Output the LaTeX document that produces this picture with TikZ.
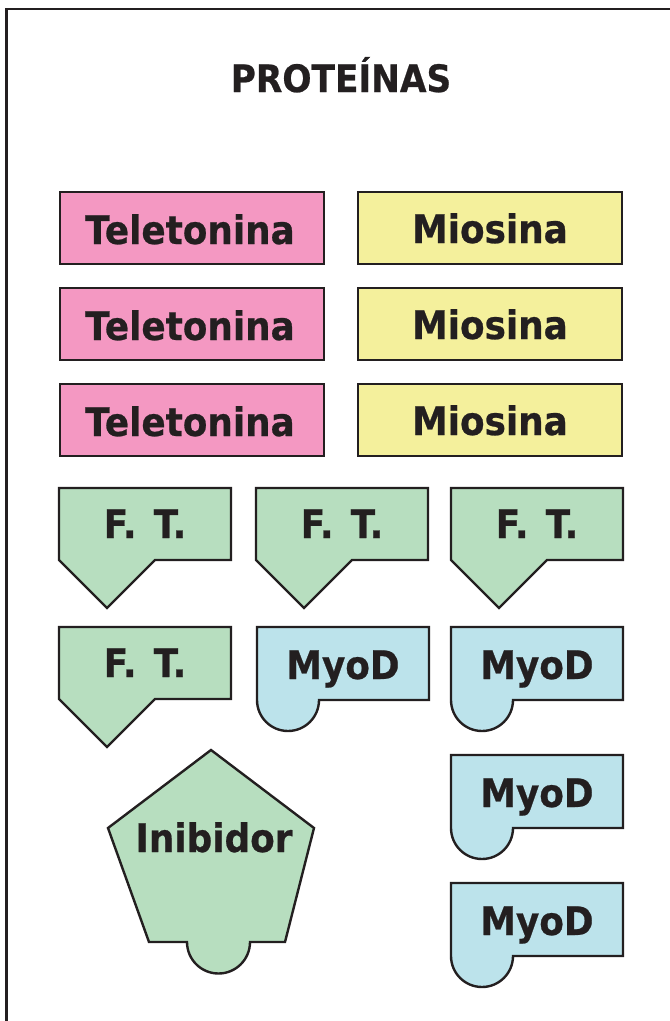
\documentclass[tikz,border=0pt]{standalone}
\usepackage{fontspec}
\newfontfamily\lbfont{DejaVu Sans Bold}[FakeStretch=0.91, FakeBold=0.6]
\definecolor{pinkf}{HTML}{F498C2}
\definecolor{yellowf}{HTML}{F4F09C}
\definecolor{greenf}{HTML}{B7DEBF}
\definecolor{bluef}{HTML}{BCE3EB}
\definecolor{inkc}{HTML}{231F20}
\tikzset{
  shp/.style={draw=inkc, line width=1.8pt, line join=miter},
  lbl/.style={anchor=base, inner sep=0pt, text=inkc, font=\lbfont\fontsize{29.5}{30}\selectfont},
}
\newcommand{\ftshape}[3]{% name, x, y (top-left)
  \path[shp, fill=greenf] (#2,#3) -- ++(172,0) -- ++(0,72) -- ++(-76,0) -- ++(-48,48) -- ++(-48,-48) -- cycle;
  \node[lbl] (#1) at (#2+86,#3+50) {F.\kern0.12em\ T.};
}
\newcommand{\myodshape}[3]{%
  \path[shp, fill=bluef] (#2,#3) -- ++(172,0) -- ++(0,73) -- ++(-110,0) arc (0:180:31) -- cycle;
  \node[lbl] (#1) at (#2+86,#3+52) {MyoD};
}
\begin{document}
\begin{tikzpicture}[x=0.75pt,y=-0.75pt]
\useasboundingbox (0,0) rectangle (670,1021);
% frame
\draw[draw=inkc, line width=1.6pt] (6.5,1030) -- (6.5,9) -- (680,9);
\node[lbl, font=\lbfont\fontsize{28.3}{30}\selectfont] (title) at (341,92) {PROTEÍNAS};
% rectangles
\foreach \r/\yy in {1/192,2/288,3/384}{
  \path[shp, fill=pinkf] (60,\yy) rectangle (324,\yy+72);
  \node[lbl] (tel\r) at (190,\yy+52) {Teletonina};
  \path[shp, fill=yellowf] (358,\yy) rectangle (622,\yy+72);
  \node[lbl] (mio\r) at (490,\yy+51) {Miosina};
}
% F. T.
\ftshape{ft1}{59}{488}
\ftshape{ft2}{256}{488}
\ftshape{ft3}{451}{488}
\ftshape{ft4}{59}{627}
% MyoD
\myodshape{my1}{257}{627}
\myodshape{my2}{451}{627}
\myodshape{my3}{451}{755}
\myodshape{my4}{451}{883}
% Inibidor
\path[shp, fill=greenf] (211,750) -- (314,828) -- (285,942) -- (250,942) arc (0:180:31.5) -- (149,942) -- (108,828) -- cycle;
\node[lbl] (inib) at (214,852) {Inibidor};
\end{tikzpicture}
\end{document}
